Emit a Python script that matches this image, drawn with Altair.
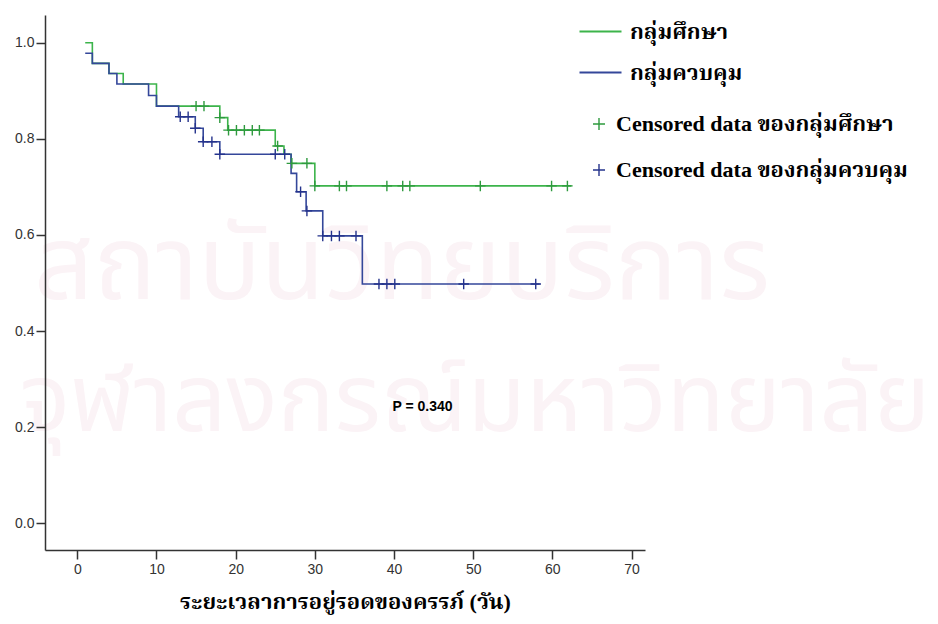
import altair as alt
import pandas as pd

# ---- data ----
study_t = [1.0, 1.9, 4.0, 5.8, 10.0, 18.0, 19.0, 25.0, 26.1, 27.0, 30.0, 62.4]
study_s = [1.0, 0.957, 0.936, 0.914, 0.868, 0.844, 0.818, 0.785, 0.768, 0.749, 0.702, 0.702]

control_t = [1.0, 1.9, 4.0, 5.0, 9.0, 10.0, 12.8, 14.9, 15.9, 18.0, 27.0, 27.7, 28.9, 31.0, 36.0, 58.4]
control_s = [0.978, 0.957, 0.936, 0.914, 0.890, 0.868, 0.846, 0.822, 0.794, 0.768, 0.728, 0.690, 0.650, 0.598, 0.498, 0.498]

study_cens_t = [15.0, 16.0, 18.0, 19.1, 20.1, 21.1, 22.1, 23.0, 25.3, 27.1, 29.0,
                30.0, 33.1, 34.0, 39.1, 41.1, 42.0, 50.9, 59.9, 61.9]
study_cens_s = [0.868, 0.868, 0.844, 0.818, 0.818, 0.818, 0.818, 0.818, 0.785, 0.749, 0.749,
                0.702, 0.702, 0.702, 0.702, 0.702, 0.702, 0.702, 0.702, 0.702]

control_cens_t = [13.0, 14.0, 14.9, 15.9, 17.0, 18.0, 25.0, 26.2, 28.2, 29.0,
                  31.0, 32.1, 33.1, 35.2, 38.1, 39.1, 40.1, 48.8, 57.9]
control_cens_s = [0.846, 0.846, 0.822, 0.794, 0.794, 0.768, 0.768, 0.768, 0.690, 0.650,
                  0.598, 0.598, 0.598, 0.598, 0.498, 0.498, 0.498, 0.498, 0.498]

groups = ["กลุ่มศึกษา", "กลุ่มควบคุม"]
cens_groups = ["Censored data ของกลุ่มศึกษา", "Censored data ของกลุ่มควบคุม"]
x_ticks = [0, 10, 20, 30, 40, 50, 60, 70]
y_ticks = [0.0, 0.2, 0.4, 0.6, 0.8, 1.0]
x_title = "ระยะเวลาการอยู่รอดของครรภ์ (วัน)"
p_text = ["P = 0.340"]
p_x = [43.6]
p_y = [0.242]
watermark = ["สถาบันวิทยบริการ", "จุฬาลงกรณ์มหาวิทยาลัย"]

line_colors = ["#3cb44b", "#34479a"]
cens_colors = ["#2e9a3e", "#25338c"]

SERIF = "'Liberation Serif', 'Noto Serif Thai', 'Noto Serif', serif"

# ---- tables ----
lines = pd.concat([
    pd.DataFrame({"t": study_t, "s": study_s, "group": groups[0], "o": range(len(study_t))}),
    pd.DataFrame({"t": control_t, "s": control_s, "group": groups[1], "o": range(len(control_t))}),
])
cens = pd.concat([
    pd.DataFrame({"t": study_cens_t, "s": study_cens_s, "cg": cens_groups[0]}),
    pd.DataFrame({"t": control_cens_t, "s": control_cens_s, "cg": cens_groups[1]}),
])
ptab = pd.DataFrame({"x": p_x, "y": p_y, "label": p_text})
wm1 = pd.DataFrame({"label": [watermark[0]]})
wm2 = pd.DataFrame({"label": [watermark[1]]})

xscale = alt.Scale(domain=[-4.08, 71.7], nice=False, zero=False)
yscale = alt.Scale(domain=[-0.0555, 1.0576], nice=False, zero=False)

xaxis = alt.Axis(values=x_ticks, title=x_title, format="d", grid=False, zindex=1,
                 titleFont=SERIF, titleFontSize=22, titleFontWeight="bold",
                 titleColor="#000", titlePadding=15,
                 labelFont="Liberation Sans", labelFontSize=14, labelColor="#333",
                 labelPadding=3, tickSize=9, tickColor="#333", domainColor="#333",
                 domainWidth=1.5, tickWidth=1.5)
yaxis = alt.Axis(values=y_ticks, title=None, format=".1f", grid=False, zindex=1,
                 labelFont="Liberation Sans", labelFontSize=14, labelColor="#333",
                 labelPadding=2, tickSize=9, tickColor="#333", domainColor="#333",
                 domainWidth=1.5, tickWidth=1.5)

wm_layer1 = alt.Chart(wm1).mark_text(fontSize=104, color="#fbf3f6", align="center",
                                     baseline="middle", font="'Noto Sans Thai', sans-serif").encode(
    x=alt.value(357), y=alt.value(253), text="label:N")
wm_layer2 = alt.Chart(wm2).mark_text(fontSize=95, color="#fbf3f6", align="center",
                                     baseline="middle", font="'Noto Sans Thai', sans-serif").encode(
    x=alt.value(430), y=alt.value(387), text="label:N")

line_layer = alt.Chart(lines).mark_line(interpolate="step-after", strokeWidth=1.6).encode(
    x=alt.X("t:Q", scale=xscale, axis=xaxis),
    y=alt.Y("s:Q", scale=yscale, axis=yaxis),
    color=alt.Color("group:N", scale=alt.Scale(domain=groups, range=line_colors),
                    legend=alt.Legend(title=None, orient="none", legendX=533, legendY=-6,
                                      symbolType="stroke", symbolSize=1764,
                                      symbolStrokeWidth=2.2, labelOffset=7,
                                      labelFont=SERIF, labelFontSize=22,
                                      labelFontWeight="bold", labelColor="#000",
                                      rowPadding=7, padding=0, labelLimit=400)),
    order="o:Q",
)

cens_layer = alt.Chart(cens).mark_point(shape="M0,-1V1M-1,0H1", filled=False, size=110,
                                        strokeWidth=1.4, opacity=1).encode(
    x=alt.X("t:Q", scale=xscale),
    y=alt.Y("s:Q", scale=yscale),
    stroke=alt.Stroke("cg:N", scale=alt.Scale(domain=cens_groups, range=cens_colors),
                      legend=alt.Legend(title=None, orient="none", legendX=543, legendY=98,
                                        symbolType="M0,-1V1M-1,0H1", symbolSize=144,
                                        symbolStrokeWidth=1.4, symbolFillColor="transparent",
                                        labelOffset=6,
                                        labelFont=SERIF, labelFontSize=22,
                                        labelFontWeight="bold", labelColor="#000",
                                        rowPadding=24, padding=0, labelLimit=400)),
)

p_layer = alt.Chart(ptab).mark_text(font="Liberation Sans", fontSize=14, fontWeight="bold",
                                    color="#000").encode(
    x=alt.X("x:Q", scale=xscale),
    y=alt.Y("y:Q", scale=yscale),
    text="label:N",
)

chart = alt.layer(wm_layer1, wm_layer2, line_layer, cens_layer, p_layer).resolve_scale(
    color="independent", stroke="independent"
).properties(
    width=600, height=535,
    view=alt.ViewBackground(stroke="transparent", strokeWidth=0),
    autosize=alt.AutoSizeParams(type="none"),
    padding={"left": 37, "top": 7, "right": 285, "bottom": 66},
).configure_view(stroke="transparent", strokeWidth=0).configure(background="white")

chart.save("out.html", embed_options={"renderer": "svg", "actions": False})
